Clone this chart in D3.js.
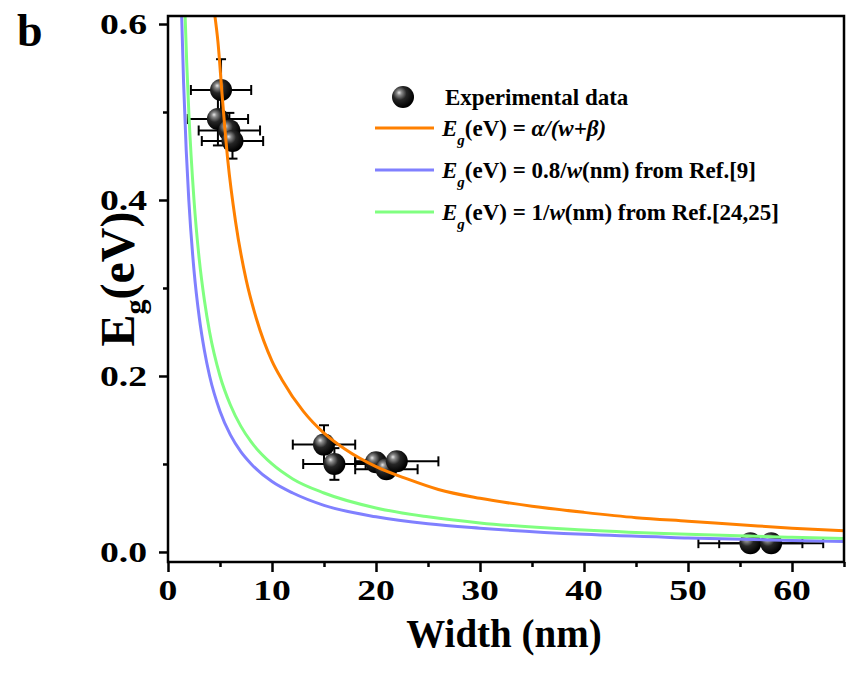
<!DOCTYPE html>
<html>
<head>
<meta charset="utf-8">
<script src="https://cdn.jsdelivr.net/npm/d3@7"></script>
<style>
  body { margin: 0; background: #fff; }
  svg text { font-family: "Liberation Serif", "Times New Roman", serif; font-weight: bold; fill: #000; }
</style>
</head>
<body>
<svg id="chart" width="847" height="675"></svg>
<script>
// Experimental points (width in nm, band gap in eV)
let expWidth     = [5.1, 4.8, 5.9, 6.2, 15, 16, 20, 21, 22, 56, 58];
let expEnergy    = [0.525, 0.492, 0.479, 0.467, 0.122, 0.100, 0.102, 0.094, 0.103, 0.010, 0.010];
let expWidthErr  = [2.9, 2.9, 2.95, 2.95, 3, 3, 2, 3, 4, 5, 5];
let expEnergyErr = [0.035, 0.03, 0.02, 0.02, 0.022, 0.018, 0.01, 0.01, 0.01, 0.005, 0.005];

// Fit curve Eg = a/(w+b)
let fitW = [4.5, 4.8, 5.2, 5.75, 6.5, 7.5, 8.5, 10, 11, 13, 15, 17, 20, 23, 26, 30, 35, 40, 45, 50, 55, 60, 65];
let fitE = [0.61, 0.58, 0.52, 0.445, 0.375, 0.31, 0.265, 0.217, 0.195, 0.16, 0.135, 0.117, 0.097, 0.083, 0.071, 0.061, 0.052, 0.045, 0.039, 0.035, 0.031, 0.027, 0.024];

// Ref.[9] curve 0.8/w
let ref9W = [1.3, 1.5, 1.75, 2, 2.5, 3, 3.5, 4, 5, 6, 7, 8, 10, 12, 15, 20, 25, 30, 40, 50, 60, 65];
let ref9E = [0.615, 0.533, 0.457, 0.4, 0.32, 0.267, 0.229, 0.2, 0.16, 0.133, 0.114, 0.1, 0.08, 0.067, 0.053, 0.04, 0.032, 0.027, 0.02, 0.016, 0.013, 0.012];

// Ref.[24,25] curve 1/w
let ref24W = [1.6, 1.8, 2, 2.5, 3, 3.5, 4, 5, 6, 7, 8, 10, 12, 15, 20, 25, 30, 40, 50, 60, 65];
let ref24E = [0.625, 0.556, 0.5, 0.4, 0.333, 0.286, 0.25, 0.2, 0.167, 0.143, 0.125, 0.1, 0.083, 0.067, 0.05, 0.04, 0.033, 0.025, 0.02, 0.0167, 0.0154];

let xMajor = [0, 10, 20, 30, 40, 50, 60];
let xMinor = [5, 15, 25, 35, 45, 55, 65];
let yMajor = [0.0, 0.2, 0.4, 0.6];
let yMinor = [0.1, 0.3, 0.5];

let svg = d3.select("#chart");
let plotLeft = 168, plotRight = 844, plotTop = 16, plotBottom = 562;

let xScale = d3.scaleLinear().domain([0, 65]).range([plotLeft, plotLeft + 676]);
let yScale = d3.scaleLinear().domain([-0.0114, 0.6091]).range([plotBottom, plotTop]);

// sphere gradient for the data balls
let defs = svg.append("defs");
let grad = defs.append("radialGradient")
    .attr("id", "ball")
    .attr("cx", 0.38).attr("cy", 0.36).attr("r", 0.62)
    .attr("fx", 0.32).attr("fy", 0.3);
grad.append("stop").attr("offset", 0).attr("stop-color", "#e8e8e8");
grad.append("stop").attr("offset", 0.18).attr("stop-color", "#8a8a8a");
grad.append("stop").attr("offset", 0.5).attr("stop-color", "#262626");
grad.append("stop").attr("offset", 1).attr("stop-color", "#000");

defs.append("clipPath").attr("id", "plotClip")
    .append("rect")
    .attr("x", plotLeft).attr("y", plotTop)
    .attr("width", plotRight - plotLeft).attr("height", plotBottom - plotTop);

// Error bars
let points = expWidth.map((w, i) => ({
    w: w, e: expEnergy[i], xe: expWidthErr[i], ye: expEnergyErr[i]
}));
let cap = 5;
let errG = svg.append("g").attr("stroke", "#000").attr("stroke-width", 2);
points.forEach(p => {
    let cx = xScale(p.w), cy = yScale(p.e);
    let x0 = xScale(p.w - p.xe), x1 = xScale(p.w + p.xe);
    let y0 = yScale(p.e - p.ye), y1 = yScale(p.e + p.ye);
    errG.append("line").attr("x1", x0).attr("x2", x1).attr("y1", cy).attr("y2", cy);
    errG.append("line").attr("x1", x0).attr("x2", x0).attr("y1", cy - cap).attr("y2", cy + cap);
    errG.append("line").attr("x1", x1).attr("x2", x1).attr("y1", cy - cap).attr("y2", cy + cap);
    errG.append("line").attr("x1", cx).attr("x2", cx).attr("y1", y0).attr("y2", y1);
    errG.append("line").attr("x1", cx - cap).attr("x2", cx + cap).attr("y1", y0).attr("y2", y0);
    errG.append("line").attr("x1", cx - cap).attr("x2", cx + cap).attr("y1", y1).attr("y2", y1);
});

// Balls
svg.append("g").selectAll("circle")
    .data(points)
    .enter()
    .append("circle")
    .attr("cx", d => xScale(d.w))
    .attr("cy", d => yScale(d.e))
    .attr("r", 11)
    .attr("fill", "url(#ball)");

// Curves
let line = d3.line()
    .x(d => xScale(d[0]))
    .y(d => yScale(d[1]))
    .curve(d3.curveMonotoneX);

let curves = [
    { w: ref9W, e: ref9E, color: "#8080ff" },
    { w: ref24W, e: ref24E, color: "#80ff80" },
    { w: fitW, e: fitE, color: "#ff8000" }
];
let curveG = svg.append("g").attr("clip-path", "url(#plotClip)");
curves.forEach(c => {
    curveG.append("path")
        .datum(c.w.map((w, i) => [w, c.e[i]]))
        .attr("d", line)
        .attr("fill", "none")
        .attr("stroke", c.color)
        .attr("stroke-width", 3);
});

// Frame
svg.append("rect")
    .attr("x", plotLeft).attr("y", plotTop)
    .attr("width", plotRight - plotLeft).attr("height", plotBottom - plotTop)
    .attr("fill", "none").attr("stroke", "#000").attr("stroke-width", 2.5);

// Axes
function styleAxis(g) {
    g.select(".domain").remove();
    g.selectAll(".tick line").attr("stroke", "#000").attr("stroke-width", 2.5);
}

svg.append("g")
    .attr("transform", `translate(0,${plotBottom})`)
    .call(d3.axisBottom(xScale).tickValues(xMajor).tickSize(10).tickFormat(""))
    .call(styleAxis);
svg.append("g")
    .attr("transform", `translate(0,${plotBottom})`)
    .call(d3.axisBottom(xScale).tickValues(xMinor).tickSize(5).tickFormat(""))
    .call(styleAxis);
svg.append("g")
    .attr("transform", `translate(${plotLeft},0)`)
    .call(d3.axisLeft(yScale).tickValues(yMajor).tickSize(9).tickFormat(""))
    .call(styleAxis);
svg.append("g")
    .attr("transform", `translate(${plotLeft},0)`)
    .call(d3.axisLeft(yScale).tickValues(yMinor).tickSize(5).tickFormat(""))
    .call(styleAxis);

// Tick labels (wide bold serif)
svg.append("g").selectAll("text")
    .data(xMajor)
    .enter()
    .append("text")
    .attr("transform", d => `translate(${xScale(d)},600) scale(1.3,1)`)
    .attr("text-anchor", "middle")
    .style("font-size", "29px")
    .text(d => d);

svg.append("g").selectAll("text")
    .data(yMajor)
    .enter()
    .append("text")
    .attr("transform", d => `translate(147,${yScale(d) + 10}) scale(1.3,1)`)
    .attr("text-anchor", "end")
    .style("font-size", "29px")
    .text(d => d3.format(".1f")(d));

// Axis titles
svg.append("text")
    .attr("x", 504).attr("y", 647)
    .attr("text-anchor", "middle")
    .style("font-size", "39px")
    .text("Width (nm)");

let yl = svg.append("text")
    .attr("transform", "translate(134,279) rotate(-90)")
    .attr("text-anchor", "middle")
    .style("font-size", "48px");
yl.append("tspan").text("E");
yl.append("tspan").attr("dy", 11).style("font-size", "30px").text("g");
yl.append("tspan").attr("dy", -11).text("(eV)");

// Panel label
svg.append("text")
    .attr("x", 17).attr("y", 46)
    .style("font-size", "46px")
    .text("b");

// Legend
let legend = svg.append("g").style("font-size", "23px");
legend.append("circle").attr("cx", 403).attr("cy", 97).attr("r", 11).attr("fill", "url(#ball)");
legend.append("text").attr("x", 445).attr("y", 105).text("Experimental data");

let legendRows = [
    { y: 128, color: "#ff8000", parts: [["(eV) = ", false], ["α/(w+β)", true]] },
    { y: 170, color: "#8080ff", parts: [["(eV) = 0.8/", false], ["w", true], ["(nm) from Ref.[9]", false]] },
    { y: 212, color: "#80ff80", parts: [["(eV) = 1/", false], ["w", true], ["(nm) from Ref.[24,25]", false]] }
];
legendRows.forEach(r => {
    legend.append("line")
        .attr("x1", 375).attr("x2", 434)
        .attr("y1", r.y).attr("y2", r.y)
        .attr("stroke", r.color).attr("stroke-width", 3);
    let t = legend.append("text").attr("x", 442).attr("y", r.y + 8);
    t.append("tspan").style("font-style", "italic").text("E");
    t.append("tspan").attr("dy", 9).style("font-style", "italic").style("font-size", "15px").text("g");
    r.parts.forEach((p, i) => {
        let s = t.append("tspan").style("font-style", p[1] ? "italic" : "normal").text(p[0]);
        if (i === 0) s.attr("dy", -9);
    });
});
</script>
</body>
</html>
